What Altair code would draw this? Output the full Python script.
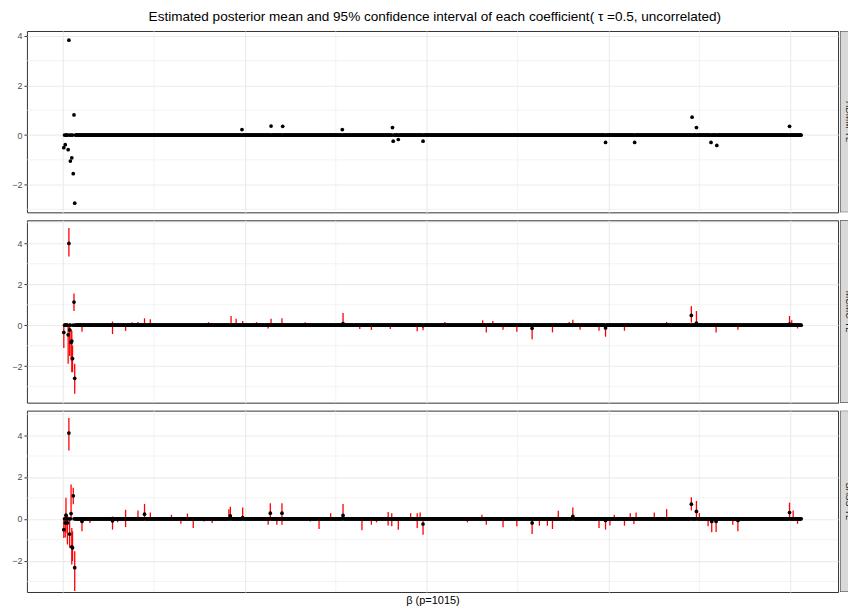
import altair as alt
import numpy as np
import pandas as pd

N = 1015
labels = ["ADMM-TL", "MCMC-TL", "BASS-TL"]

# Panel 1: point estimates (nonzero ones; all others are 0)
p1_idx = [1, 3, 7, 8, 10, 12, 14, 15, 16, 246, 286, 302, 384, 453, 454, 461, 495,
          746, 786, 865, 871, 891, 899, 999]
p1_val = [-0.51, -0.39, -0.59, 3.83, -1.05, -0.92, -1.56, 0.81, -2.75, 0.22, 0.36,
          0.35, 0.22, 0.3, -0.25, -0.18, -0.25, -0.3, -0.3, 0.72, 0.3, -0.3, -0.42, 0.35]

# Panel 2: mean, lower, upper (others: mean 0 with a tiny interval)
p2_idx = [1, 7, 8, 9, 11, 12, 13, 15, 16, 26, 68, 86, 95, 103, 112, 120, 200, 231, 238,
          247, 266, 282, 286, 301, 333, 385, 408, 424, 450, 487, 495, 525, 577, 582,
          591, 605, 624, 645, 673, 696, 701, 711, 737, 746, 772, 830, 864, 871, 898,
          928, 999, 1002, 1010]
p2_mean = [-0.35, -0.47, 3.99, -0.23, -0.84, -0.77, -1.63, 1.13, -2.59, 0, 0, 0, 0, 0, 0,
           0, 0, 0, 0, 0, 0, 0, 0.02, 0.02, 0, 0.08, 0, 0, 0, 0, -0.02, 0, 0, 0, 0, 0, 0,
           -0.15, 0, 0, 0, 0, 0, -0.13, 0, 0, 0.48, 0.1, 0, 0, 0.05, 0, 0]
p2_lo = [-1.11, -1.88, 3.35, -1.5, -1.72, -2.29, -2.29, 0.69, -3.35, -0.32, -0.43, -0.28,
         -0.03, -0.03, -0.03, -0.03, -0.03, -0.03, -0.05, -0.03, -0.03, -0.16, -0.03,
         -0.03, -0.03, -0.03, -0.19, -0.23, -0.19, -0.29, -0.24, -0.03, -0.03, -0.35,
         -0.03, -0.22, -0.32, -0.68, -0.35, -0.03, -0.03, -0.22, -0.27, -0.56, -0.27,
         -0.03, 0.13, -0.03, -0.35, -0.22, -0.03, -0.03, -0.16]
p2_hi = [0.05, 0.0, 4.75, 0.1, -0.2, -0.27, -1.0, 1.55, -1.88, 0.03, 0.18, 0.03, 0.14,
         0.16, 0.34, 0.29, 0.15, 0.45, 0.32, 0.21, 0.15, 0.03, 0.32, 0.34, 0.15, 0.6,
         0.03, 0.03, 0.03, 0.03, 0.03, 0.16, 0.24, 0.03, 0.21, 0.03, 0.03, 0.05, 0.03,
         0.16, 0.27, 0.03, 0.03, 0.05, 0.03, 0.16, 0.93, 0.69, 0.03, 0.03, 0.45, 0.24,
         0.03]

# Panel 3: mean, lower, upper
p3_idx = [1, 3, 4, 6, 8, 9, 11, 12, 13, 14, 16, 26, 37, 68, 75, 86, 103, 112, 120, 149,
          162, 171, 179, 194, 205, 228, 230, 247, 282, 285, 294, 301, 340, 352, 368, 385,
          411, 424, 431, 447, 452, 461, 478, 487, 491, 495, 556, 576, 582, 605, 624, 645,
          655, 666, 673, 681, 701, 711, 737, 746, 752, 758, 772, 780, 785, 788, 813, 830,
          864, 871, 875, 887, 892, 898, 921, 928, 999, 1004, 1010]
p3_mean = [-0.52, -0.2, 0.17, -0.2, 4.1, -0.73, 0.25, -1.34, -1.39, 1.1, -2.34, -0.12, 0,
           -0.1, 0, 0, 0, 0.22, 0, 0, 0, 0, 0, 0, 0, 0, 0.14, 0.05, 0, 0.27, 0, 0.27, 0,
           0, 0, 0.16, 0, 0, 0, 0, 0, 0, 0, 0, 0, -0.25, 0, 0, 0, 0, 0, -0.2, 0, 0, 0, 0,
           0.11, 0, 0, -0.08, 0, 0, 0, 0, 0, 0, 0, 0, 0.7, 0.35, 0, 0, -0.13, -0.13, 0,
           -0.08, 0.3, 0, 0]
p3_lo = [-0.92, -0.9, -0.68, -1.23, 3.27, -1.39, -0.05, -2.18, -2.02, 0.7, -3.45, -0.6,
         -0.2, -0.52, -0.17, -0.4, -0.03, -0.03, -0.03, -0.03, -0.24, -0.03, -0.44,
         -0.13, -0.2, -0.03, -0.03, -0.03, -0.28, -0.03, -0.28, -0.28, -0.13, -0.49,
         -0.03, -0.03, -0.55, -0.28, -0.17, -0.32, -0.36, -0.52, -0.03, -0.44, -0.03,
         -0.76, -0.17, -0.03, -0.28, -0.4, -0.36, -0.73, -0.33, -0.33, -0.49, -0.03,
         -0.03, -0.08, -0.44, -0.52, -0.32, -0.03, -0.33, -0.03, -0.25, -0.03, -0.03,
         -0.03, 0.4, -0.03, -0.05, -0.36, -0.65, -0.63, -0.28, -0.6, -0.03, -0.05, -0.24]
p3_hi = [0.03, 0.2, 1.0, 0.19, 4.82, -0.05, 1.64, -0.44, -0.6, 1.48, -1.55, 0.03, 0.03,
         0.11, 0.05, 0.43, 0.4, 0.71, 0.3, 0.19, 0.03, 0.25, 0.03, 0.03, 0.03, 0.46, 0.58,
         0.54, 0.03, 0.74, 0.03, 0.74, 0.03, 0.03, 0.27, 0.71, 0.03, 0.03, 0.03, 0.32,
         0.27, 0.03, 0.27, 0.27, 0.3, 0.03, 0.03, 0.19, 0.03, 0.03, 0.03, 0.03, 0.03,
         0.03, 0.03, 0.38, 0.54, 0.03, 0.03, 0.03, 0.03, 0.19, 0.03, 0.27, 0.03, 0.3,
         0.3, 0.46, 1.03, 0.85, 0.27, 0.03, 0.03, 0.03, 0.03, 0.03, 0.77, 0.39, 0.03]

x_major = [0, 250, 500, 750, 1000]
x_minor = [125, 375, 625, 875]
y_major = [-2, 0, 2, 4]
y_minor = [-3, -1, 1, 3, 5]

X_DOMAIN = [-49.7, 1065.7]
Y_DOMAINS = [[-3.12, 4.2], [-3.78, 5.12], [-3.5, 5.17]]
HEIGHTS = [182, 183, 182]
W = 814
STRIP_W = 8


def build_df(idx_list, mean_list, lo_list=None, hi_list=None):
    idx = np.arange(1, N + 1)
    mean = np.zeros(N)
    lo = np.full(N, -0.03)
    hi = np.full(N, 0.03)
    for k, i in enumerate(idx_list):
        mean[i - 1] = mean_list[k]
        if lo_list is not None:
            lo[i - 1] = lo_list[k]
            hi[i - 1] = hi_list[k]
    return pd.DataFrame({"idx": idx, "mean": mean, "lo": lo, "hi": hi})


dfs = [build_df(p1_idx, p1_val),
       build_df(p2_idx, p2_mean, p2_lo, p2_hi),
       build_df(p3_idx, p3_mean, p3_lo, p3_hi)]

GRID = "#EBEBEB"


def panel(k):
    df = dfs[k]
    h = HEIGHTS[k]
    last = k == 2
    xscale = alt.Scale(domain=X_DOMAIN, nice=False, zero=False)
    yscale = alt.Scale(domain=Y_DOMAINS[k], nice=False, zero=False)
    if last:
        xaxis = alt.Axis(values=x_major, labels=False, ticks=False, domain=False,
                         grid=True, gridColor=GRID, gridWidth=1.1,
                         title="β (p=1015)", titlePadding=3)
    else:
        xaxis = alt.Axis(values=x_major, labels=False, ticks=False, domain=False,
                         grid=True, gridColor=GRID, gridWidth=1.1, title=None)
    yaxis = alt.Axis(values=y_major, grid=True, gridColor=GRID, gridWidth=1.1,
                     domain=False, tickSize=3, labelPadding=2, title=None)
    vmin = alt.Chart(pd.DataFrame({"v": x_minor})).mark_rule(
        color=GRID, strokeWidth=0.6).encode(
        x=alt.X("v:Q", scale=xscale, axis=xaxis))
    hmin = alt.Chart(pd.DataFrame({"v": y_minor})).transform_filter(
        (alt.datum.v > Y_DOMAINS[k][0]) & (alt.datum.v < Y_DOMAINS[k][1])
    ).mark_rule(color=GRID, strokeWidth=0.6).encode(
        y=alt.Y("v:Q", scale=yscale, axis=yaxis))
    layers = [vmin, hmin]
    base = alt.Chart(df)
    if k > 0:
        layers.append(base.mark_rule(color="#FF0000", strokeWidth=1.3).encode(
            x=alt.X("idx:Q", scale=xscale),
            y=alt.Y("lo:Q", scale=yscale),
            y2="hi:Q"))
    layers.append(base.mark_circle(size=14, color="black", opacity=1).encode(
        x=alt.X("idx:Q", scale=xscale),
        y=alt.Y("mean:Q", scale=yscale)))
    p = alt.layer(*layers).properties(width=W, height=h)

    sdf = pd.DataFrame({"label": [labels[k]]})
    strip_bg = alt.Chart(sdf).mark_rect(
        fill="#D9D9D9", stroke="#333333", strokeWidth=1, clip=True).encode(
        x=alt.value(0), x2=alt.value(40), y=alt.value(0), y2=alt.value(h))
    strip_tx = alt.Chart(sdf).mark_text(
        angle=90, clip=True, fontSize=9, color="#1A1A1A", font="Liberation Sans",
        align="center", baseline="middle").encode(
        x=alt.value(8.6), y=alt.value(h / 2), text="label:N")
    s = alt.layer(strip_bg, strip_tx).properties(
        width=STRIP_W, height=h, view=alt.ViewBackground(stroke="transparent"))
    return alt.hconcat(p, s, spacing=0)


chart = alt.vconcat(panel(0), panel(1), panel(2), spacing=6).properties(
    title=alt.TitleParams(
        "Estimated posterior mean and 95% confidence interval of each coefficient( τ =0.5, uncorrelated)",
        fontSize=13.6, font="Liberation Sans", fontWeight="normal", color="black",
        anchor="middle", offset=7, dx=5),
    padding={"left": 3, "top": 0, "right": 0, "bottom": 0},
    background="white",
).configure_view(
    stroke="#333333", strokeWidth=1
).configure_axis(
    labelFont="Liberation Sans", labelFontSize=9, labelColor="#4D4D4D",
    tickColor="#333333", titleFont="Liberation Sans", titleFontSize=11,
    titleColor="black", titleFontWeight="normal"
)

chart.save("out.html", embed_options={"renderer": "svg", "actions": False})
